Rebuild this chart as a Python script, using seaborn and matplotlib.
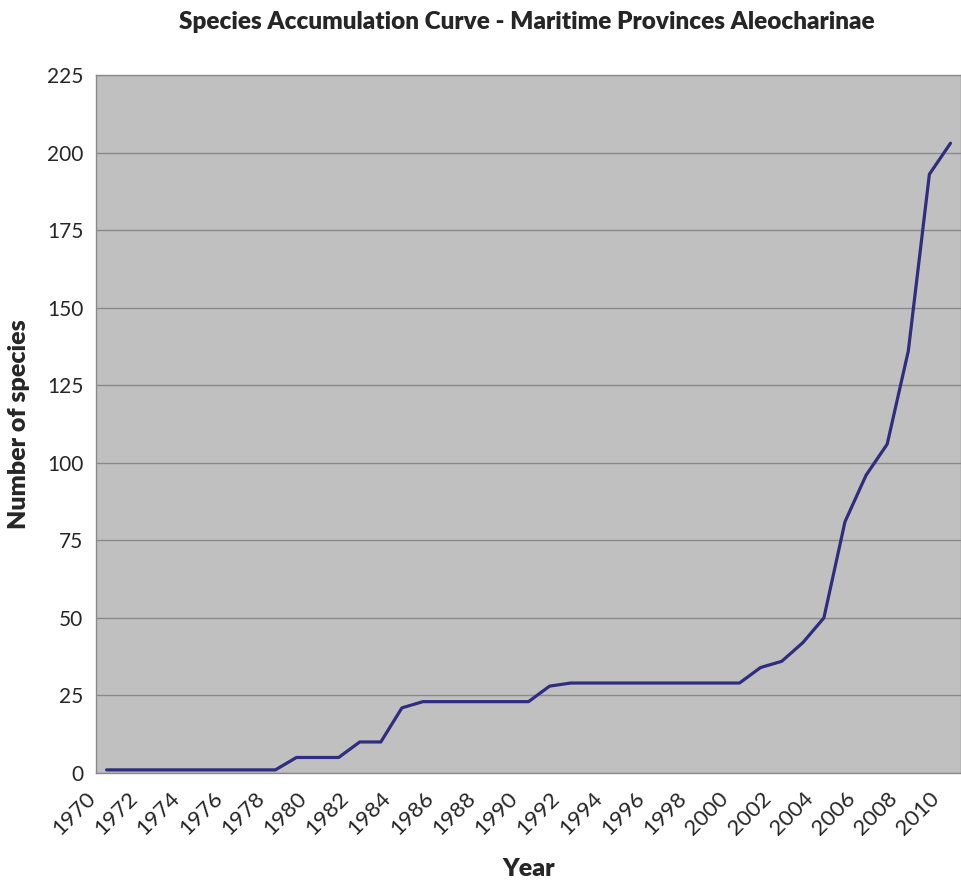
import numpy as np
import pandas as pd
import matplotlib.pyplot as plt
import matplotlib.transforms as mtransforms
import seaborn as sns

# cumulative species count per year
years = list(range(1970, 2011))
species = [1, 1, 1, 1, 1, 1, 1, 1, 1, 5,
           5, 5, 10, 10, 21, 23, 23, 23, 23, 23,
           23, 28, 29, 29, 29, 29, 29, 29, 29, 29,
           29, 34, 36, 42, 50, 81, 96, 106, 136, 193,
           203]
y_ticks = [0, 25, 50, 75, 100, 125, 150, 175, 200, 225]

df = pd.DataFrame({"Year": years, "Species": species})
df["idx"] = np.arange(len(df))

sns.set_style("white")
plt.rcParams['font.family'] = ['Lato', 'DejaVu Sans']

fig = plt.figure(figsize=(9.62, 8.8), dpi=100)
ax = fig.add_axes([0.0998, 0.1216, 0.8992, 0.7932])
ax.set_facecolor("#C0C0C0")

sns.lineplot(data=df, x="idx", y="Species", ax=ax, color="#2E2D7F", linewidth=2.3)

ax.set_xlim(-0.5, len(years) - 0.5)
ax.set_ylim(0, 225)
ax.set_yticks(y_ticks)
ax.yaxis.grid(True, color="#8A8A8A", linewidth=1)
ax.set_axisbelow(True)

# labels every other year, small ticks on category boundaries
ax.set_xticks(df["idx"][::2])
ax.set_xticklabels([str(y) for y in years[::2]], rotation=45, ha="right",
                   va="center", rotation_mode="anchor", fontsize=16)
ax.set_xticks(np.arange(len(years) + 1) - 0.5, minor=True)
ax.tick_params(axis="x", which="major", length=0, pad=16)
ax.tick_params(axis="x", which="minor", length=5, color="#8A8A8A", direction="out")
ax.tick_params(axis="y", length=5, color="#8A8A8A", direction="out", labelsize=15, pad=4)

# nudge the rotated labels left so they end just before each point
shift = mtransforms.ScaledTranslation(-14 / 100, 0, fig.dpi_scale_trans)
for lbl in ax.get_xticklabels():
    lbl.set_transform(lbl.get_transform() + shift)

for s in ax.spines.values():
    s.set_color("#8A8A8A")
    s.set_linewidth(1)

ax.set_xlabel("Year", fontsize=18, fontweight="heavy", labelpad=14)
ax.set_ylabel("Number of species", fontsize=18, fontweight="heavy", labelpad=12)
fig.suptitle("Species Accumulation Curve - Maritime Provinces Aleocharinae",
             x=0.548, y=0.988, fontsize=17.5, fontweight="heavy")

plt.savefig("out.png", dpi=100)
